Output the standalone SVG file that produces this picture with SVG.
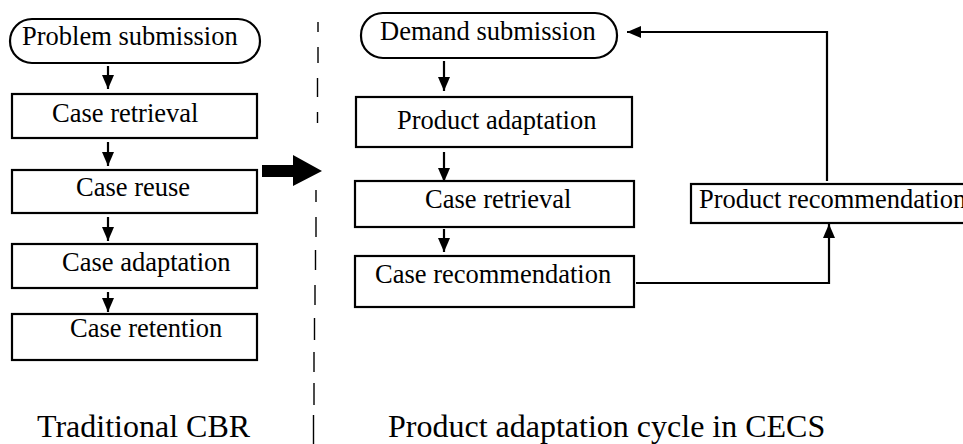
<svg xmlns="http://www.w3.org/2000/svg" width="963" height="444" viewBox="0 0 963 444">
<style>
.box{fill:#fff;stroke:#000;stroke-width:2.2}
.lbl{font-family:'Liberation Serif','Times New Roman','DejaVu Serif',serif;font-size:26.5px;fill:#000}
.cap{font-family:'Liberation Serif','Times New Roman','DejaVu Serif',serif;font-size:32px;fill:#000}
.ln{fill:none;stroke:#000;stroke-width:2.2}
.dash{fill:none;stroke:#000;stroke-width:1.4}
</style>
<defs>
<marker id="ah" viewBox="0 0 14 12" refX="14" refY="6" markerWidth="14" markerHeight="12" markerUnits="userSpaceOnUse" orient="auto">
<path d="M0,0 L14,6 L0,12 Z" fill="#000"/>
</marker>
</defs>
<g id="n-problem-submission"><rect class="box" x="10" y="19" width="250" height="44" rx="22" ry="22"/><text class="lbl" font-family="Liberation Serif, serif" x="22" y="45">Problem submission</text></g>
<g id="n-case-retrieval-l"><rect class="box" x="12" y="94" width="245" height="44"/><text class="lbl" font-family="Liberation Serif, serif" x="52" y="122">Case retrieval</text></g>
<g id="n-case-reuse"><rect class="box" x="12" y="170" width="245" height="43"/><text class="lbl" font-family="Liberation Serif, serif" x="76" y="196">Case reuse</text></g>
<g id="n-case-adaptation"><rect class="box" x="12" y="244" width="245" height="44"/><text class="lbl" font-family="Liberation Serif, serif" x="62" y="271">Case adaptation</text></g>
<g id="n-case-retention"><rect class="box" x="12" y="314" width="245" height="46"/><text class="lbl" font-family="Liberation Serif, serif" x="70" y="337">Case retention</text></g>
<g id="n-demand-submission"><rect class="box" x="361" y="13" width="256" height="45" rx="22" ry="22"/><text class="lbl" font-family="Liberation Serif, serif" x="380" y="40">Demand submission</text></g>
<g id="n-product-adaptation"><rect class="box" x="356" y="97" width="276" height="50"/><text class="lbl" font-family="Liberation Serif, serif" x="397" y="129">Product adaptation</text></g>
<g id="n-case-retrieval-r"><rect class="box" x="355" y="181" width="279" height="46"/><text class="lbl" font-family="Liberation Serif, serif" x="425" y="208">Case retrieval</text></g>
<g id="n-case-recommendation"><rect class="box" x="355" y="256" width="279" height="51"/><text class="lbl" font-family="Liberation Serif, serif" x="375" y="283">Case recommendation</text></g>
<g id="n-product-recommendation"><rect class="box" x="691" y="184" width="320" height="39"/><text class="lbl" font-family="Liberation Serif, serif" x="699" y="208">Product recommendation</text></g>
<g id="captions"><text class="cap" font-family="Liberation Serif, serif" x="37" y="437">Traditional CBR</text><text class="cap" font-family="Liberation Serif, serif" x="388" y="437">Product adaptation cycle in CECS</text></g>
<g id="divider"><path class="dash" d="M318,22 V32 M318,47 V63 M317.5,78 V97 M317.5,112 V123 M316,190 V202 M316,217 V237 M315.5,250 V270 M315,285 V305 M314.5,318 V340 M314,352 V372 M314,383 V405 M313.5,415 V444"/></g>
<g id="connectors">
<path class="ln" d="M108,66 V89" marker-end="url(#ah)"/>
<path class="ln" d="M108,142 V166" marker-end="url(#ah)"/>
<path class="ln" d="M108,217 V241" marker-end="url(#ah)"/>
<path class="ln" d="M108,292 V312" marker-end="url(#ah)"/>
<path class="ln" d="M444,61 V91" marker-end="url(#ah)"/>
<path class="ln" d="M444,152 V182" marker-end="url(#ah)"/>
<path class="ln" d="M444,229 V252" marker-end="url(#ah)"/>
<path class="ln" d="M636,283 H829 V224" marker-end="url(#ah)"/>
<path class="ln" d="M827,181 V32 H627" marker-end="url(#ah)"/>
<path d="M262,165 H293 V155 L322,171 L293,186 V177 H262 Z" fill="#000"/>
</g>
</svg>
